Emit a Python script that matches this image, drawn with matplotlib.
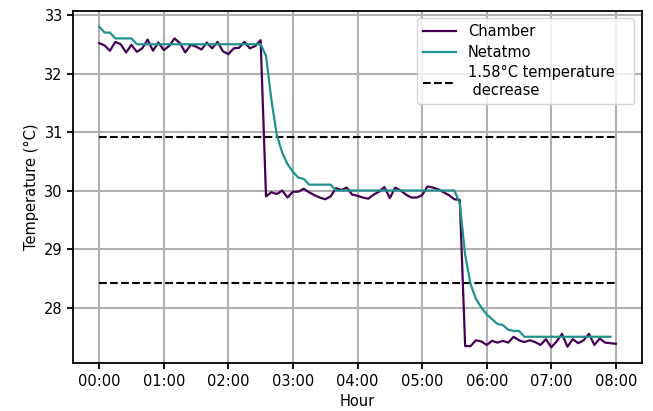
import numpy as np
import matplotlib
matplotlib.use('Agg')
import matplotlib.pyplot as plt

# readings every 5 minutes, 00:00 .. 08:00
hours = np.arange(97) * 5 / 60.0

chamber = [32.52, 32.48, 32.39, 32.54, 32.50, 32.36, 32.49, 32.37, 32.43, 32.58,
           32.39, 32.53, 32.40, 32.47, 32.60, 32.52, 32.36, 32.49, 32.46, 32.41,
           32.53, 32.43, 32.54, 32.38, 32.33, 32.43, 32.44, 32.54, 32.43, 32.47,
           32.57,
           29.90, 29.97, 29.94, 30.00, 29.88, 29.98, 29.98, 30.03, 29.97, 29.92,
           29.88, 29.85, 29.90, 30.04, 30.01, 30.05, 29.93, 29.91, 29.88, 29.86,
           29.93, 29.98, 30.06, 29.87, 30.05, 30.00, 29.93, 29.88, 29.88, 29.92,
           30.07, 30.05, 30.02, 29.97, 29.92, 29.85, 29.84,
           27.34, 27.34, 27.44, 27.42, 27.36, 27.43, 27.40, 27.43, 27.40, 27.50,
           27.44, 27.41, 27.44, 27.41, 27.36, 27.46, 27.32, 27.42, 27.55, 27.33,
           27.46, 27.39, 27.44, 27.55, 27.36, 27.47, 27.40, 27.39, 27.38]

netatmo = [32.8, 32.7, 32.7, 32.6, 32.6, 32.6, 32.6] + [32.5] * 24 + \
          [32.3, 31.55, 30.95, 30.65, 30.45, 30.32, 30.22, 30.2, 30.1, 30.1,
           30.1, 30.1, 30.1] + [30.0] * 23 + \
          [29.78, 28.9, 28.4, 28.15, 28.0, 27.88, 27.8, 27.72, 27.7, 27.62,
           27.6, 27.6] + [27.5] * 17

drop = 1.58
levels = [32.5 - drop, 30.0 - drop]
tick_hours = list(range(9))
tick_labels = ['%02d:00' % h for h in tick_hours]

plt.rcParams['font.size'] = 10.5

fig = plt.figure(figsize=(6.53, 4.11), dpi=100)
ax = fig.add_axes([0.1123, 0.116, 0.8704, 0.858])

ax.plot(hours, chamber, color='#440154', lw=1.6, label='Chamber', zorder=3)
ax.plot(hours[:len(netatmo)], netatmo, color='#21918c', lw=1.6,
        label='Netatmo', zorder=3)
for i, lev in enumerate(levels):
    ax.hlines(lev, 0, 8, colors='black', linestyles='--', lw=1.5, zorder=2,
              label='1.58°C temperature   \n decrease' if i == 0 else None)

ax.set_xticks(tick_hours)
ax.set_xticklabels(tick_labels)
ax.set_yticks([28, 29, 30, 31, 32, 33])
ax.grid(color='#b0b0b0', lw=1.5)
ax.set_axisbelow(True)
for s in ax.spines.values():
    s.set_linewidth(1.3)
ax.tick_params(width=1.3, length=4)
ax.set_xlabel('Hour')
ax.set_ylabel('Temperature (°C)')
ax.legend(loc='upper right', handlelength=2.3, labelspacing=0.4)

plt.savefig('out.png')
